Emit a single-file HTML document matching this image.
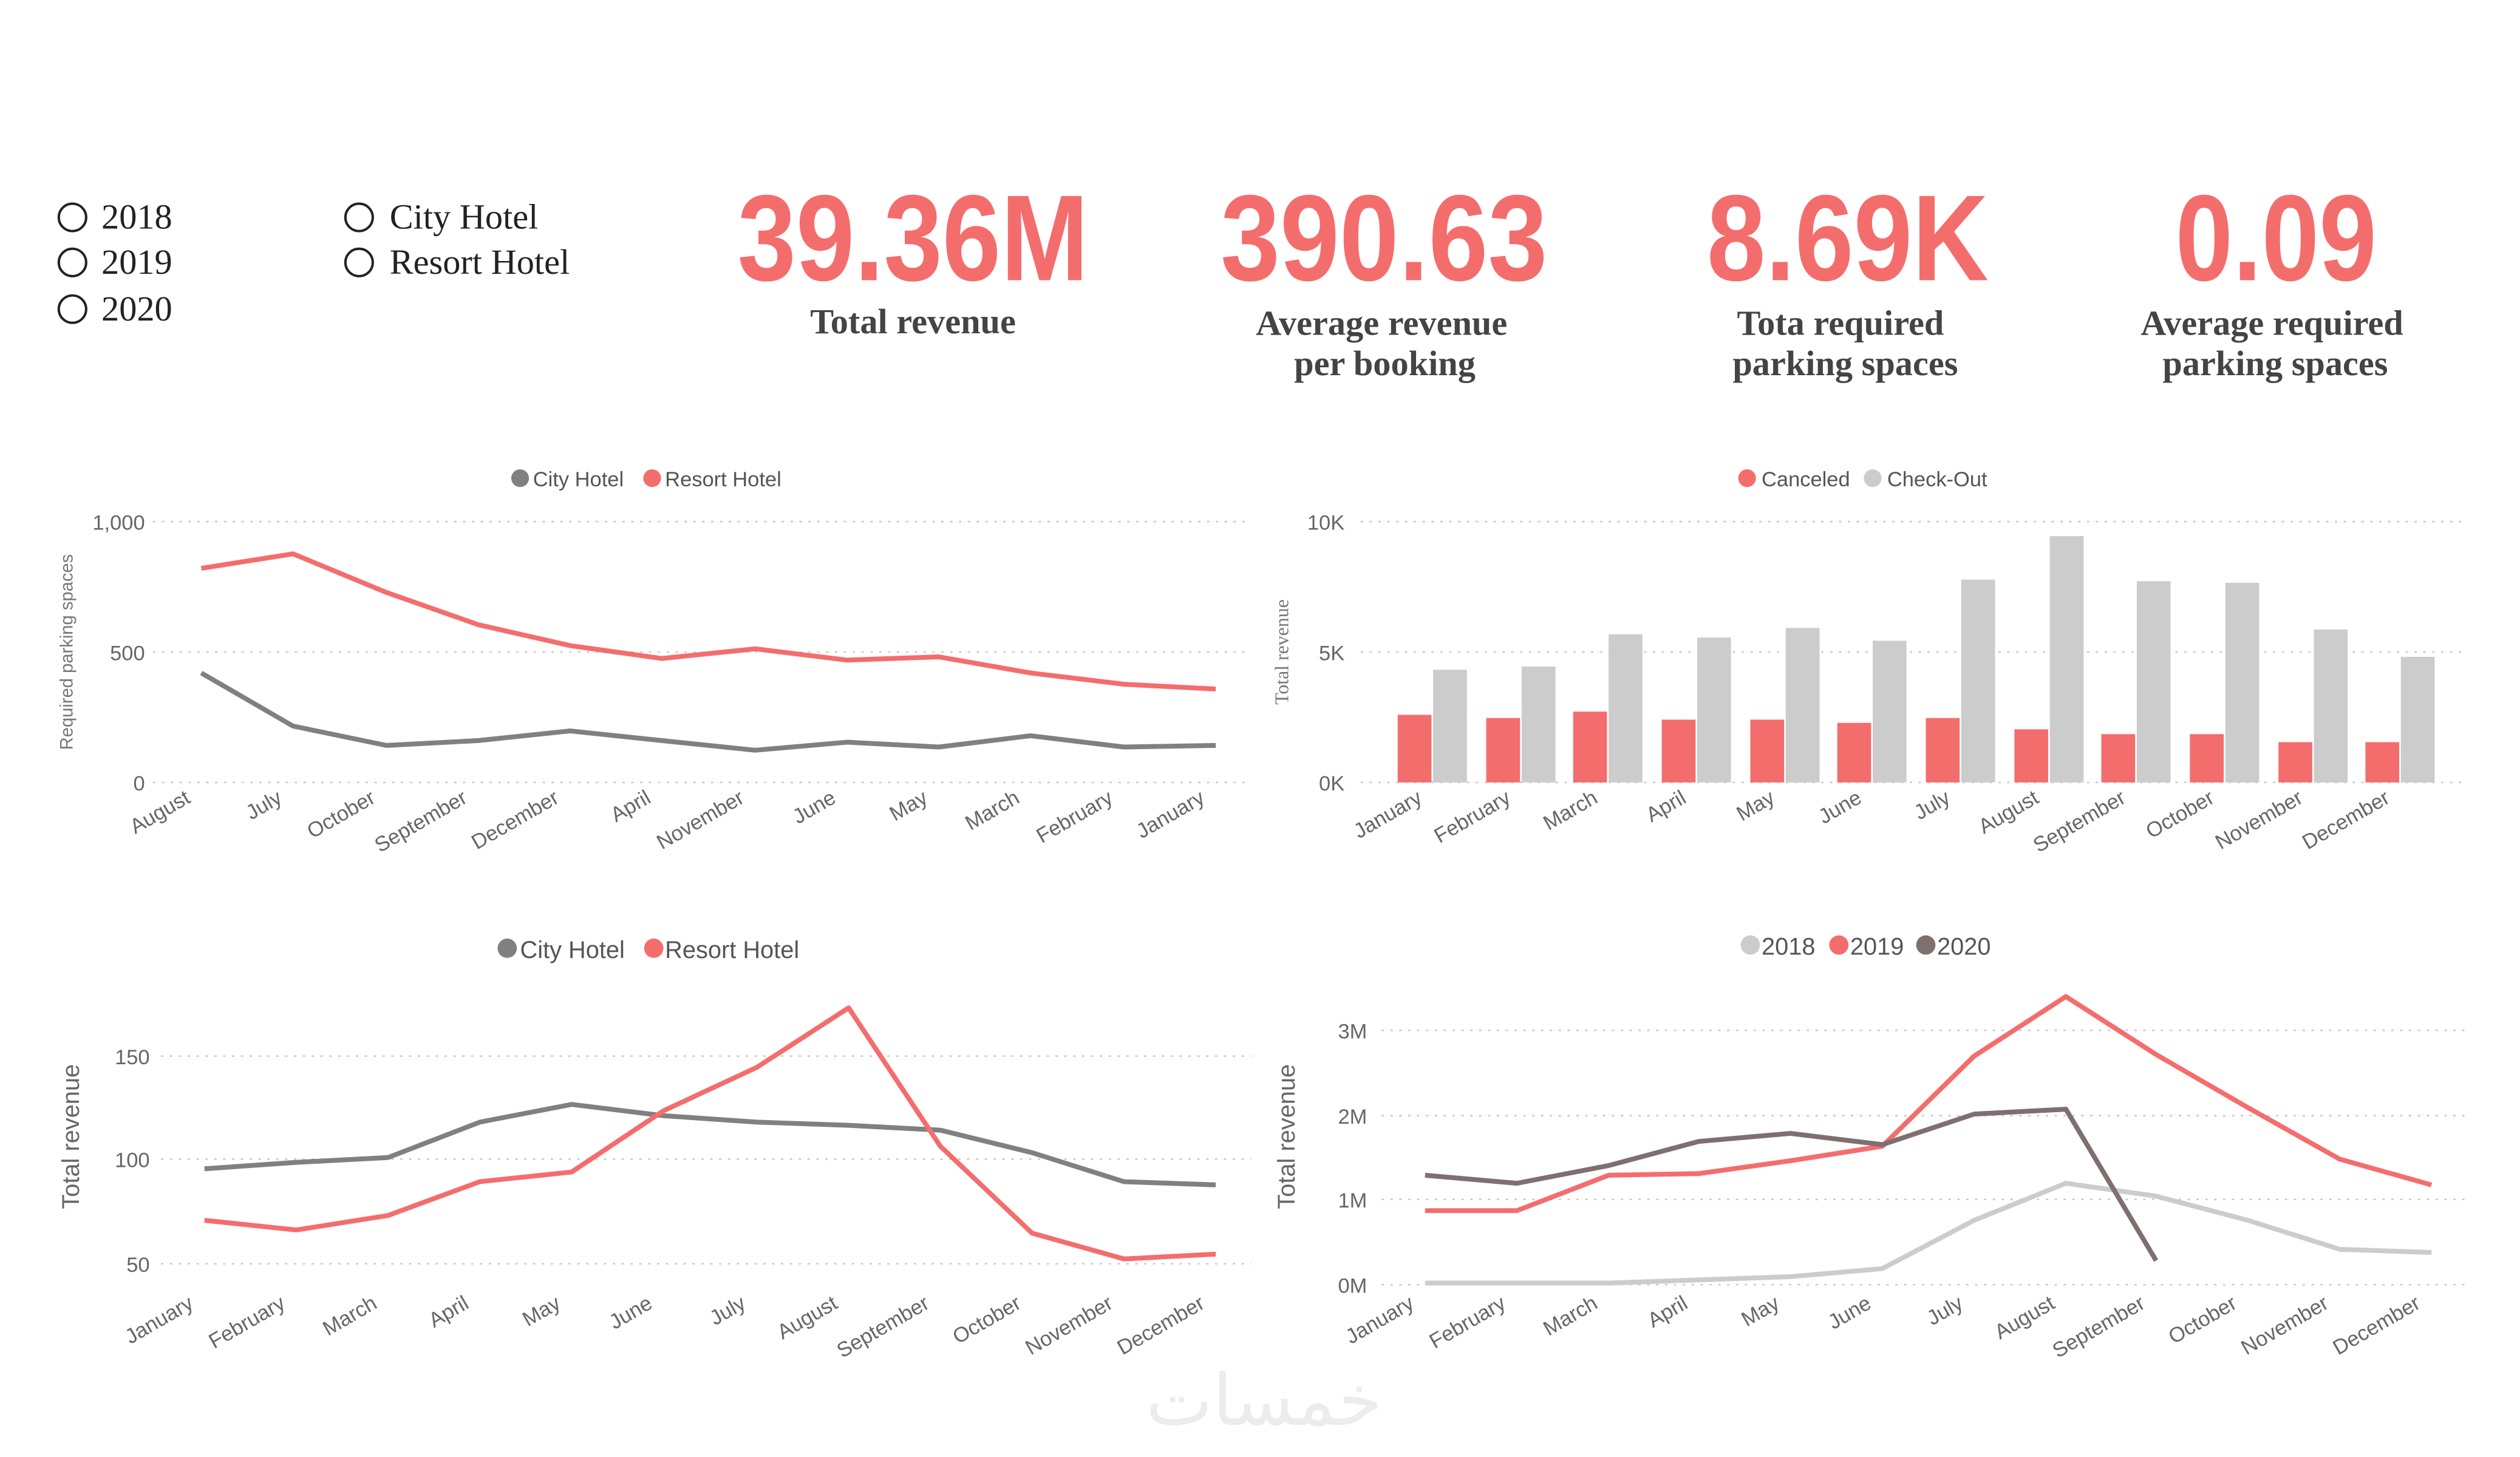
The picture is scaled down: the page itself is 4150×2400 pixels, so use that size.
<!DOCTYPE html>
<html><head><meta charset="utf-8"><style>
html,body{margin:0;padding:0;background:#fff;}
svg{display:block;}
.ser{font-family:"Liberation Serif",serif;}
.san{font-family:"Liberation Sans",sans-serif;}
.kpi{font-family:"Liberation Sans Narrow","Liberation Sans",sans-serif;font-weight:bold;fill:#f46d6d;}
.lbl{font-family:"Liberation Serif",serif;font-weight:bold;fill:#444;font-size:22px;}
.grid{stroke:#ccc;stroke-width:1;stroke-dasharray:1.5 4;}
.tick{font-family:"Liberation Sans",sans-serif;fill:#666;font-size:13px;}
</style></head><body>
<svg width="4150" height="2400" viewBox="0 0 1565 905" xmlns="http://www.w3.org/2000/svg">
<rect width="1565" height="905" fill="#fff"/>
<g class="ser" font-size="22" fill="#222">
<circle cx="45" cy="135" r="8.5" fill="none" stroke="#222" stroke-width="1.5"/><text x="63" y="142">2018</text>
<circle cx="45" cy="163" r="8.5" fill="none" stroke="#222" stroke-width="1.5"/><text x="63" y="170">2019</text>
<circle cx="45" cy="192" r="8.5" fill="none" stroke="#222" stroke-width="1.5"/><text x="63" y="199">2020</text>
<circle cx="223" cy="135" r="8.5" fill="none" stroke="#222" stroke-width="1.5"/><text x="242" y="142">City Hotel</text>
<circle cx="223" cy="163" r="8.5" fill="none" stroke="#222" stroke-width="1.5"/><text x="242" y="170">Resort Hotel</text>
</g>
<text class="kpi" x="458" y="174" font-size="76" textLength="218" lengthAdjust="spacingAndGlyphs">39.36M</text>
<text class="kpi" x="758" y="174" font-size="76" textLength="203" lengthAdjust="spacingAndGlyphs">390.63</text>
<text class="kpi" x="1060" y="174" font-size="76" textLength="175" lengthAdjust="spacingAndGlyphs">8.69K</text>
<text class="kpi" x="1351" y="174" font-size="76" textLength="125" lengthAdjust="spacingAndGlyphs">0.09</text>
<g class="lbl" text-anchor="middle">
<text x="567" y="207">Total revenue</text>
<text x="858" y="208">Average revenue</text><text x="860" y="233">per booking</text>
<text x="1143" y="208">Tota required</text><text x="1146" y="233">parking spaces</text>
<text x="1411" y="208">Average required</text><text x="1413" y="233">parking spaces</text>
</g>

<g class="san" font-size="13" fill="#555">
<circle cx="323" cy="297" r="5.5" fill="#808080"/><text x="331" y="302">City Hotel</text>
<circle cx="405" cy="297" r="5.5" fill="#f46d6d"/><text x="413" y="302">Resort Hotel</text>
</g>
<line class="grid" x1="95" y1="324" x2="775" y2="324"/><line class="grid" x1="95" y1="405" x2="775" y2="405"/><line class="grid" x1="95" y1="486" x2="775" y2="486"/>
<g class="tick" text-anchor="end"><text x="90" y="329">1,000</text><text x="90" y="410">500</text><text x="90" y="491">0</text></g>
<text class="san" font-size="11" fill="#777" transform="translate(45,405) rotate(-90)" text-anchor="middle">Required parking spaces</text>
<polyline fill="none" stroke="#f46d6d" stroke-width="3" stroke-linejoin="round" points="125,353 182,344 240,368 297,388 354,401 411,409 469,403 526,410 583,408 640,418 698,425 755,428"/>
<polyline fill="none" stroke="#808080" stroke-width="3" stroke-linejoin="round" points="125,418 182,451 240,463 297,460 354,454 411,460 469,466 526,461 583,464 640,457 698,464 755,463"/>
<g class="tick" text-anchor="end">
<text transform="translate(119,498) rotate(-30)">August</text>
<text transform="translate(176,498) rotate(-30)">July</text>
<text transform="translate(234,498) rotate(-30)">October</text>
<text transform="translate(291,498) rotate(-30)">September</text>
<text transform="translate(348,498) rotate(-30)">December</text>
<text transform="translate(405,498) rotate(-30)">April</text>
<text transform="translate(463,498) rotate(-30)">November</text>
<text transform="translate(520,498) rotate(-30)">June</text>
<text transform="translate(577,498) rotate(-30)">May</text>
<text transform="translate(634,498) rotate(-30)">March</text>
<text transform="translate(692,498) rotate(-30)">February</text>
<text transform="translate(749,498) rotate(-30)">January</text>
</g>

<g class="san" font-size="13" fill="#555">
<circle cx="1085" cy="297" r="5.5" fill="#f46d6d"/><text x="1094" y="302">Canceled</text>
<circle cx="1163" cy="297" r="5.5" fill="#cccccc"/><text x="1172" y="302">Check-Out</text>
</g>
<line class="grid" x1="845" y1="324" x2="1532" y2="324"/><line class="grid" x1="845" y1="405" x2="1532" y2="405"/><line class="grid" x1="845" y1="486" x2="1532" y2="486"/>
<g class="tick" text-anchor="end"><text x="835" y="329">10K</text><text x="835" y="410">5K</text><text x="835" y="491">0K</text></g>
<text class="ser" font-size="12" fill="#777" transform="translate(800,405) rotate(-90)" text-anchor="middle">Total revenue</text>
<g fill="#f46d6d">
<rect x="868" y="444" width="21" height="42"/><rect x="923" y="446" width="21" height="40"/><rect x="977" y="442" width="21" height="44"/><rect x="1032" y="447" width="21" height="39"/><rect x="1087" y="447" width="21" height="39"/><rect x="1141" y="449" width="21" height="37"/><rect x="1196" y="446" width="21" height="40"/><rect x="1251" y="453" width="21" height="33"/><rect x="1305" y="456" width="21" height="30"/><rect x="1360" y="456" width="21" height="30"/><rect x="1415" y="461" width="21" height="25"/><rect x="1469" y="461" width="21" height="25"/>
</g>
<g fill="#cccccc">
<rect x="890" y="416" width="21" height="70"/><rect x="945" y="414" width="21" height="72"/><rect x="999" y="394" width="21" height="92"/><rect x="1054" y="396" width="21" height="90"/><rect x="1109" y="390" width="21" height="96"/><rect x="1163" y="398" width="21" height="88"/><rect x="1218" y="360" width="21" height="126"/><rect x="1273" y="333" width="21" height="153"/><rect x="1327" y="361" width="21" height="125"/><rect x="1382" y="362" width="21" height="124"/><rect x="1437" y="391" width="21" height="95"/><rect x="1491" y="408" width="21" height="78"/>
</g>
<g class="tick" text-anchor="end">
<text transform="translate(884,498) rotate(-30)">January</text>
<text transform="translate(939,498) rotate(-30)">February</text>
<text transform="translate(993,498) rotate(-30)">March</text>
<text transform="translate(1048,498) rotate(-30)">April</text>
<text transform="translate(1103,498) rotate(-30)">May</text>
<text transform="translate(1157,498) rotate(-30)">June</text>
<text transform="translate(1212,498) rotate(-30)">July</text>
<text transform="translate(1267,498) rotate(-30)">August</text>
<text transform="translate(1321,498) rotate(-30)">September</text>
<text transform="translate(1376,498) rotate(-30)">October</text>
<text transform="translate(1431,498) rotate(-30)">November</text>
<text transform="translate(1485,498) rotate(-30)">December</text>
</g>

<g class="san" font-size="15" fill="#555">
<circle cx="315" cy="589" r="6" fill="#808080"/><text x="323" y="595">City Hotel</text>
<circle cx="406" cy="589" r="6" fill="#f46d6d"/><text x="413" y="595">Resort Hotel</text>
</g>
<line class="grid" x1="100" y1="656" x2="777" y2="656"/><line class="grid" x1="100" y1="720" x2="777" y2="720"/><line class="grid" x1="100" y1="785" x2="777" y2="785"/>
<g class="tick" text-anchor="end" font-size="14"><text x="93" y="661">150</text><text x="93" y="725">100</text><text x="93" y="790">50</text></g>
<text class="san" font-size="15" fill="#666" transform="translate(49,706) rotate(-90)" text-anchor="middle">Total revenue</text>
<polyline fill="none" stroke="#808080" stroke-width="3" stroke-linejoin="round" points="127,726 184,722 241,719 298,697 355,686 412,693 470,697 527,699 584,702 641,716 698,734 755,736"/>
<polyline fill="none" stroke="#f46d6d" stroke-width="3" stroke-linejoin="round" points="127,758 184,764 241,755 298,734 355,728 412,690 470,663 527,626 584,712 641,766 698,782 755,779"/>
<g class="tick" text-anchor="end">
<text transform="translate(121,812) rotate(-30)">January</text>
<text transform="translate(178,812) rotate(-30)">February</text>
<text transform="translate(235,812) rotate(-30)">March</text>
<text transform="translate(292,812) rotate(-30)">April</text>
<text transform="translate(349,812) rotate(-30)">May</text>
<text transform="translate(406,812) rotate(-30)">June</text>
<text transform="translate(464,812) rotate(-30)">July</text>
<text transform="translate(521,812) rotate(-30)">August</text>
<text transform="translate(578,812) rotate(-30)">September</text>
<text transform="translate(635,812) rotate(-30)">October</text>
<text transform="translate(692,812) rotate(-30)">November</text>
<text transform="translate(749,812) rotate(-30)">December</text>
</g>

<g class="san" font-size="15" fill="#555">
<circle cx="1087" cy="587" r="6" fill="#cccccc"/><text x="1094" y="593">2018</text>
<circle cx="1142" cy="587" r="6" fill="#f46d6d"/><text x="1149" y="593">2019</text>
<circle cx="1196" cy="587" r="6" fill="#7f6f6f"/><text x="1203" y="593">2020</text>
</g>
<line class="grid" x1="858" y1="640" x2="1532" y2="640"/><line class="grid" x1="858" y1="693" x2="1532" y2="693"/><line class="grid" x1="858" y1="745" x2="1532" y2="745"/><line class="grid" x1="858" y1="798" x2="1532" y2="798"/>
<g class="tick" text-anchor="end" font-size="14"><text x="849" y="645">3M</text><text x="849" y="698">2M</text><text x="849" y="750">1M</text><text x="849" y="803">0M</text></g>
<text class="san" font-size="15" fill="#666" transform="translate(804,706) rotate(-90)" text-anchor="middle">Total revenue</text>
<polyline fill="none" stroke="#cccccc" stroke-width="3" stroke-linejoin="round" points="885,797 942,797 999,797 1055,795 1112,793 1169,788 1226,758 1283,735 1339,743 1396,758 1453,776 1510,778"/>
<polyline fill="none" stroke="#f46d6d" stroke-width="3" stroke-linejoin="round" points="885,752 942,752 999,730 1055,729 1112,721 1169,712 1226,656 1283,619 1339,655 1396,688 1453,720 1510,736"/>
<polyline fill="none" stroke="#7f6f6f" stroke-width="3" stroke-linejoin="round" points="885,730 942,735 999,724 1055,709 1112,704 1169,711 1226,692 1283,689 1339,783"/>
<g class="tick" text-anchor="end">
<text transform="translate(879,812) rotate(-30)">January</text>
<text transform="translate(936,812) rotate(-30)">February</text>
<text transform="translate(993,812) rotate(-30)">March</text>
<text transform="translate(1049,812) rotate(-30)">April</text>
<text transform="translate(1106,812) rotate(-30)">May</text>
<text transform="translate(1163,812) rotate(-30)">June</text>
<text transform="translate(1220,812) rotate(-30)">July</text>
<text transform="translate(1277,812) rotate(-30)">August</text>
<text transform="translate(1333,812) rotate(-30)">September</text>
<text transform="translate(1390,812) rotate(-30)">October</text>
<text transform="translate(1447,812) rotate(-30)">November</text>
<text transform="translate(1504,812) rotate(-30)">December</text>
</g>
<text x="785" y="885" text-anchor="middle" font-size="44" fill="#ececec" font-family="'Liberation Sans','DejaVu Sans',sans-serif">خمسات</text>
</svg>
</body></html>
